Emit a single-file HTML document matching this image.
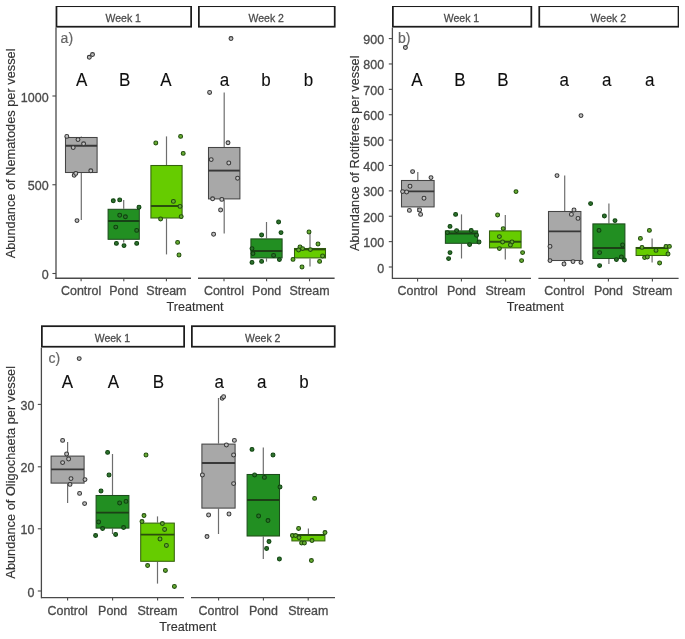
<!DOCTYPE html>
<html><head><meta charset="utf-8"><title>Boxplots</title>
<style>
html,body{margin:0;padding:0;background:#fff;}
body{width:685px;height:639px;overflow:hidden;}
svg{display:block;}
svg text{font-family:"Liberation Sans", sans-serif;}
.t{will-change:transform;}
</style></head>
<body>
<svg width="685" height="639" viewBox="0 0 685 639">
<rect x="0" y="0" width="685" height="639" fill="#fff"/>
<defs><filter id="soft" x="0" y="0" width="100%" height="100%"><feGaussianBlur stdDeviation="0.45"/></filter></defs>
<g filter="url(#soft)">
<rect x="56.48" y="6.17" width="134.65" height="20.55" fill="#fff" stroke="#1e1e1e" stroke-width="1.75"/>
<text x="0" y="0" font-size="10.5" fill="#4a4a4a" stroke="#4a4a4a" stroke-width="0.25" text-anchor="middle" transform="translate(123.20 21.70) scale(1 1.05)" >Week 1</text>
<rect x="198.88" y="6.17" width="135.85" height="20.55" fill="#fff" stroke="#1e1e1e" stroke-width="1.75"/>
<text x="0" y="0" font-size="10.5" fill="#4a4a4a" stroke="#4a4a4a" stroke-width="0.25" text-anchor="middle" transform="translate(266.20 21.70) scale(1 1.05)" >Week 2</text>
<line x1="56" y1="27.6" x2="56" y2="278.95" stroke="#4a4a4a" stroke-width="1.3"/>
<line x1="52.4" y1="96" x2="56" y2="96" stroke="#4a4a4a" stroke-width="1.1"/>
<text x="0" y="0" font-size="12.5" fill="#4a4a4a" stroke="#4a4a4a" stroke-width="0.3" text-anchor="end" transform="translate(48.60 101.50) scale(1 1.08)" >1000</text>
<line x1="52.4" y1="184.75" x2="56" y2="184.75" stroke="#4a4a4a" stroke-width="1.1"/>
<text x="0" y="0" font-size="12.5" fill="#4a4a4a" stroke="#4a4a4a" stroke-width="0.3" text-anchor="end" transform="translate(48.60 190.25) scale(1 1.08)" >500</text>
<line x1="52.4" y1="273.5" x2="56" y2="273.5" stroke="#4a4a4a" stroke-width="1.1"/>
<text x="0" y="0" font-size="12.5" fill="#4a4a4a" stroke="#4a4a4a" stroke-width="0.3" text-anchor="end" transform="translate(48.60 279.00) scale(1 1.08)" >0</text>
<line x1="55.4" y1="278.3" x2="191" y2="278.3" stroke="#4a4a4a" stroke-width="1.4"/>
<line x1="198" y1="278.3" x2="334.6" y2="278.3" stroke="#4a4a4a" stroke-width="1.4"/>
<line x1="81.1" y1="278.3" x2="81.1" y2="281.3" stroke="#4a4a4a" stroke-width="1.1"/>
<text x="0" y="0" font-size="12.45" fill="#4a4a4a" stroke="#4a4a4a" stroke-width="0.3" text-anchor="middle" transform="translate(81.10 295.20) scale(1 1.04)" >Control</text>
<line x1="123.8" y1="278.3" x2="123.8" y2="281.3" stroke="#4a4a4a" stroke-width="1.1"/>
<text x="0" y="0" font-size="12.45" fill="#4a4a4a" stroke="#4a4a4a" stroke-width="0.3" text-anchor="middle" transform="translate(123.80 295.20) scale(1 1.04)" >Pond</text>
<line x1="166.4" y1="278.3" x2="166.4" y2="281.3" stroke="#4a4a4a" stroke-width="1.1"/>
<text x="0" y="0" font-size="12.45" fill="#4a4a4a" stroke="#4a4a4a" stroke-width="0.3" text-anchor="middle" transform="translate(166.40 295.20) scale(1 1.04)" >Stream</text>
<line x1="224" y1="278.3" x2="224" y2="281.3" stroke="#4a4a4a" stroke-width="1.1"/>
<text x="0" y="0" font-size="12.45" fill="#4a4a4a" stroke="#4a4a4a" stroke-width="0.3" text-anchor="middle" transform="translate(224.00 295.20) scale(1 1.04)" >Control</text>
<line x1="266.6" y1="278.3" x2="266.6" y2="281.3" stroke="#4a4a4a" stroke-width="1.1"/>
<text x="0" y="0" font-size="12.45" fill="#4a4a4a" stroke="#4a4a4a" stroke-width="0.3" text-anchor="middle" transform="translate(266.60 295.20) scale(1 1.04)" >Pond</text>
<line x1="309.5" y1="278.3" x2="309.5" y2="281.3" stroke="#4a4a4a" stroke-width="1.1"/>
<text x="0" y="0" font-size="12.45" fill="#4a4a4a" stroke="#4a4a4a" stroke-width="0.3" text-anchor="middle" transform="translate(309.50 295.20) scale(1 1.04)" >Stream</text>
<text x="0" y="0" font-size="12.6" fill="#333333" stroke="#333333" stroke-width="0.15" text-anchor="middle" transform="translate(195.00 311.20) scale(1 1.04)" >Treatment</text>
<text x="0" y="0" font-size="12.8" fill="#333333" stroke="#333333" stroke-width="0.15" text-anchor="middle" transform="translate(15 153.4) rotate(-90)">Abundance of Nematodes per vessel</text>
<text x="0" y="0" font-size="14" fill="#666666" stroke="#666666" stroke-width="0.2" text-anchor="start" transform="translate(60.60 43.40) scale(1 1.0)" >a)</text>
<text x="0" y="0" font-size="17" fill="#111" stroke="#111" stroke-width="0.1" text-anchor="middle" transform="translate(81.60 86.40) scale(1 1.04)" >A</text>
<text x="0" y="0" font-size="17" fill="#111" stroke="#111" stroke-width="0.1" text-anchor="middle" transform="translate(124.70 86.40) scale(1 1.04)" >B</text>
<text x="0" y="0" font-size="17" fill="#111" stroke="#111" stroke-width="0.1" text-anchor="middle" transform="translate(166.00 86.40) scale(1 1.04)" >A</text>
<text x="0" y="0" font-size="17" fill="#111" stroke="#111" stroke-width="0.1" text-anchor="middle" transform="translate(224.50 86.40) scale(1 1.04)" >a</text>
<text x="0" y="0" font-size="17" fill="#111" stroke="#111" stroke-width="0.1" text-anchor="middle" transform="translate(266.00 86.40) scale(1 1.04)" >b</text>
<text x="0" y="0" font-size="17" fill="#111" stroke="#111" stroke-width="0.1" text-anchor="middle" transform="translate(308.40 86.40) scale(1 1.04)" >b</text>
<line x1="81.3" y1="136.4" x2="81.3" y2="137" stroke="#6e6e6e" stroke-width="1.2"/>
<line x1="81.3" y1="173" x2="81.3" y2="220" stroke="#6e6e6e" stroke-width="1.2"/>
<rect x="65.50" y="137.50" width="31.60" height="35.00" fill="#a8a8a8" stroke="#444444" stroke-width="1.05"/>
<line x1="65.50" y1="145.7" x2="97.10" y2="145.7" stroke="#383838" stroke-width="1.9"/>
<line x1="123.7" y1="200" x2="123.7" y2="208.8" stroke="#6e6e6e" stroke-width="1.2"/>
<line x1="123.7" y1="239.8" x2="123.7" y2="242.6" stroke="#6e6e6e" stroke-width="1.2"/>
<rect x="108.10" y="209.30" width="31.20" height="30.00" fill="#238f22" stroke="#1f4d1c" stroke-width="1.05"/>
<line x1="108.10" y1="221" x2="139.30" y2="221" stroke="#1a3f17" stroke-width="1.9"/>
<line x1="166.5" y1="136.4" x2="166.5" y2="165" stroke="#6e6e6e" stroke-width="1.2"/>
<line x1="166.5" y1="218.5" x2="166.5" y2="254.4" stroke="#6e6e6e" stroke-width="1.2"/>
<rect x="150.90" y="165.50" width="31.20" height="52.50" fill="#66cc00" stroke="#36620f" stroke-width="1.05"/>
<line x1="150.90" y1="206" x2="182.10" y2="206" stroke="#2a4f0c" stroke-width="1.9"/>
<line x1="224.2" y1="92.4" x2="224.2" y2="147" stroke="#6e6e6e" stroke-width="1.2"/>
<line x1="224.2" y1="199.4" x2="224.2" y2="233.4" stroke="#6e6e6e" stroke-width="1.2"/>
<rect x="208.50" y="147.50" width="31.40" height="51.40" fill="#a8a8a8" stroke="#444444" stroke-width="1.05"/>
<line x1="208.50" y1="170.6" x2="239.90" y2="170.6" stroke="#383838" stroke-width="1.9"/>
<line x1="266.5" y1="222" x2="266.5" y2="238.4" stroke="#6e6e6e" stroke-width="1.2"/>
<line x1="266.5" y1="258.4" x2="266.5" y2="261.6" stroke="#6e6e6e" stroke-width="1.2"/>
<rect x="250.90" y="238.90" width="31.20" height="19.00" fill="#238f22" stroke="#1f4d1c" stroke-width="1.05"/>
<line x1="250.90" y1="251" x2="282.10" y2="251" stroke="#1a3f17" stroke-width="1.9"/>
<line x1="310" y1="232" x2="310" y2="248" stroke="#6e6e6e" stroke-width="1.2"/>
<line x1="310" y1="258.4" x2="310" y2="266.4" stroke="#6e6e6e" stroke-width="1.2"/>
<rect x="294.50" y="248.50" width="31.00" height="9.40" fill="#66cc00" stroke="#36620f" stroke-width="1.05"/>
<line x1="294.50" y1="249.4" x2="325.50" y2="249.4" stroke="#2a4f0c" stroke-width="1.9"/>
<circle cx="89.3" cy="57.3" r="1.95" fill="#c0c0c0" stroke="#383838" stroke-width="1.05"/>
<circle cx="92.5" cy="54.6" r="1.95" fill="#c0c0c0" stroke="#383838" stroke-width="1.05"/>
<circle cx="66.8" cy="136.4" r="1.95" fill="#c0c0c0" stroke="#383838" stroke-width="1.05"/>
<circle cx="78" cy="139.6" r="1.95" fill="#c0c0c0" stroke="#383838" stroke-width="1.05"/>
<circle cx="83.6" cy="143.8" r="1.95" fill="#c0c0c0" stroke="#383838" stroke-width="1.05"/>
<circle cx="73.2" cy="147.6" r="1.95" fill="#c0c0c0" stroke="#383838" stroke-width="1.05"/>
<circle cx="90.8" cy="170.8" r="1.95" fill="#c0c0c0" stroke="#383838" stroke-width="1.05"/>
<circle cx="74.2" cy="175.2" r="1.95" fill="#c0c0c0" stroke="#383838" stroke-width="1.05"/>
<circle cx="75.8" cy="173.4" r="1.95" fill="#c0c0c0" stroke="#383838" stroke-width="1.05"/>
<circle cx="77" cy="220.6" r="1.95" fill="#c0c0c0" stroke="#383838" stroke-width="1.05"/>
<circle cx="113.3" cy="200.8" r="1.95" fill="#2f722f" stroke="#0e420e" stroke-width="1.05"/>
<circle cx="119.7" cy="199.9" r="1.95" fill="#2f722f" stroke="#0e420e" stroke-width="1.05"/>
<circle cx="139" cy="207.2" r="1.95" fill="#2f722f" stroke="#0e420e" stroke-width="1.05"/>
<circle cx="119.7" cy="215.2" r="1.95" fill="#2f722f" stroke="#0e420e" stroke-width="1.05"/>
<circle cx="125.4" cy="216.8" r="1.95" fill="#2f722f" stroke="#0e420e" stroke-width="1.05"/>
<circle cx="115.8" cy="227.1" r="1.95" fill="#2f722f" stroke="#0e420e" stroke-width="1.05"/>
<circle cx="136.7" cy="230.4" r="1.95" fill="#2f722f" stroke="#0e420e" stroke-width="1.05"/>
<circle cx="116.4" cy="243.4" r="1.95" fill="#2f722f" stroke="#0e420e" stroke-width="1.05"/>
<circle cx="124" cy="245.6" r="1.95" fill="#2f722f" stroke="#0e420e" stroke-width="1.05"/>
<circle cx="136.7" cy="243.4" r="1.95" fill="#2f722f" stroke="#0e420e" stroke-width="1.05"/>
<circle cx="155.8" cy="143" r="1.95" fill="#68ad30" stroke="#214d0e" stroke-width="1.05"/>
<circle cx="180.6" cy="136.4" r="1.95" fill="#68ad30" stroke="#214d0e" stroke-width="1.05"/>
<circle cx="183.2" cy="153.4" r="1.95" fill="#68ad30" stroke="#214d0e" stroke-width="1.05"/>
<circle cx="173.4" cy="201.4" r="1.95" fill="#68ad30" stroke="#214d0e" stroke-width="1.05"/>
<circle cx="180" cy="206.4" r="1.95" fill="#68ad30" stroke="#214d0e" stroke-width="1.05"/>
<circle cx="181.2" cy="216.6" r="1.95" fill="#68ad30" stroke="#214d0e" stroke-width="1.05"/>
<circle cx="160.6" cy="219" r="1.95" fill="#68ad30" stroke="#214d0e" stroke-width="1.05"/>
<circle cx="177.6" cy="242.4" r="1.95" fill="#68ad30" stroke="#214d0e" stroke-width="1.05"/>
<circle cx="179" cy="255" r="1.95" fill="#68ad30" stroke="#214d0e" stroke-width="1.05"/>
<circle cx="231" cy="38.6" r="1.95" fill="#c0c0c0" stroke="#383838" stroke-width="1.05"/>
<circle cx="209.6" cy="92.4" r="1.95" fill="#c0c0c0" stroke="#383838" stroke-width="1.05"/>
<circle cx="228" cy="142.8" r="1.95" fill="#c0c0c0" stroke="#383838" stroke-width="1.05"/>
<circle cx="211.2" cy="159.6" r="1.95" fill="#c0c0c0" stroke="#383838" stroke-width="1.05"/>
<circle cx="228.8" cy="163" r="1.95" fill="#c0c0c0" stroke="#383838" stroke-width="1.05"/>
<circle cx="237.6" cy="178.2" r="1.95" fill="#c0c0c0" stroke="#383838" stroke-width="1.05"/>
<circle cx="212.6" cy="198.8" r="1.95" fill="#c0c0c0" stroke="#383838" stroke-width="1.05"/>
<circle cx="221.8" cy="199.4" r="1.95" fill="#c0c0c0" stroke="#383838" stroke-width="1.05"/>
<circle cx="220.6" cy="210" r="1.95" fill="#c0c0c0" stroke="#383838" stroke-width="1.05"/>
<circle cx="213.6" cy="234.2" r="1.95" fill="#c0c0c0" stroke="#383838" stroke-width="1.05"/>
<circle cx="278.6" cy="222" r="1.95" fill="#2f722f" stroke="#0e420e" stroke-width="1.05"/>
<circle cx="281" cy="232.6" r="1.95" fill="#2f722f" stroke="#0e420e" stroke-width="1.05"/>
<circle cx="261.6" cy="235" r="1.95" fill="#2f722f" stroke="#0e420e" stroke-width="1.05"/>
<circle cx="252" cy="248.6" r="1.95" fill="#2f722f" stroke="#0e420e" stroke-width="1.05"/>
<circle cx="253" cy="253.6" r="1.95" fill="#2f722f" stroke="#0e420e" stroke-width="1.05"/>
<circle cx="273.6" cy="255.4" r="1.95" fill="#2f722f" stroke="#0e420e" stroke-width="1.05"/>
<circle cx="279.4" cy="259.6" r="1.95" fill="#2f722f" stroke="#0e420e" stroke-width="1.05"/>
<circle cx="252" cy="262.4" r="1.95" fill="#2f722f" stroke="#0e420e" stroke-width="1.05"/>
<circle cx="261.6" cy="261.4" r="1.95" fill="#2f722f" stroke="#0e420e" stroke-width="1.05"/>
<circle cx="309" cy="232" r="1.95" fill="#68ad30" stroke="#214d0e" stroke-width="1.05"/>
<circle cx="318" cy="244" r="1.95" fill="#68ad30" stroke="#214d0e" stroke-width="1.05"/>
<circle cx="300" cy="247" r="1.95" fill="#68ad30" stroke="#214d0e" stroke-width="1.05"/>
<circle cx="302.6" cy="248.6" r="1.95" fill="#68ad30" stroke="#214d0e" stroke-width="1.05"/>
<circle cx="298.6" cy="250" r="1.95" fill="#68ad30" stroke="#214d0e" stroke-width="1.05"/>
<circle cx="310.4" cy="249.6" r="1.95" fill="#68ad30" stroke="#214d0e" stroke-width="1.05"/>
<circle cx="322.6" cy="256" r="1.95" fill="#68ad30" stroke="#214d0e" stroke-width="1.05"/>
<circle cx="293" cy="259.4" r="1.95" fill="#68ad30" stroke="#214d0e" stroke-width="1.05"/>
<circle cx="319.6" cy="261.4" r="1.95" fill="#68ad30" stroke="#214d0e" stroke-width="1.05"/>
<circle cx="302" cy="267" r="1.95" fill="#68ad30" stroke="#214d0e" stroke-width="1.05"/>
<rect x="392.88" y="6.17" width="138.45" height="20.55" fill="#fff" stroke="#1e1e1e" stroke-width="1.75"/>
<text x="0" y="0" font-size="10.5" fill="#4a4a4a" stroke="#4a4a4a" stroke-width="0.25" text-anchor="middle" transform="translate(461.50 21.70) scale(1 1.05)" >Week 1</text>
<rect x="539.27" y="6.17" width="139.25" height="20.55" fill="#fff" stroke="#1e1e1e" stroke-width="1.75"/>
<text x="0" y="0" font-size="10.5" fill="#4a4a4a" stroke="#4a4a4a" stroke-width="0.25" text-anchor="middle" transform="translate(608.30 21.70) scale(1 1.05)" >Week 2</text>
<line x1="392.4" y1="27.6" x2="392.4" y2="279.04999999999995" stroke="#4a4a4a" stroke-width="1.3"/>
<line x1="388.79999999999995" y1="267.0" x2="392.4" y2="267.0" stroke="#4a4a4a" stroke-width="1.1"/>
<text x="0" y="0" font-size="12.5" fill="#4a4a4a" stroke="#4a4a4a" stroke-width="0.3" text-anchor="end" transform="translate(384.20 272.50) scale(1 1.08)" >0</text>
<line x1="388.79999999999995" y1="241.62" x2="392.4" y2="241.62" stroke="#4a4a4a" stroke-width="1.1"/>
<text x="0" y="0" font-size="12.5" fill="#4a4a4a" stroke="#4a4a4a" stroke-width="0.3" text-anchor="end" transform="translate(384.20 247.12) scale(1 1.08)" >100</text>
<line x1="388.79999999999995" y1="216.24" x2="392.4" y2="216.24" stroke="#4a4a4a" stroke-width="1.1"/>
<text x="0" y="0" font-size="12.5" fill="#4a4a4a" stroke="#4a4a4a" stroke-width="0.3" text-anchor="end" transform="translate(384.20 221.74) scale(1 1.08)" >200</text>
<line x1="388.79999999999995" y1="190.86" x2="392.4" y2="190.86" stroke="#4a4a4a" stroke-width="1.1"/>
<text x="0" y="0" font-size="12.5" fill="#4a4a4a" stroke="#4a4a4a" stroke-width="0.3" text-anchor="end" transform="translate(384.20 196.36) scale(1 1.08)" >300</text>
<line x1="388.79999999999995" y1="165.48" x2="392.4" y2="165.48" stroke="#4a4a4a" stroke-width="1.1"/>
<text x="0" y="0" font-size="12.5" fill="#4a4a4a" stroke="#4a4a4a" stroke-width="0.3" text-anchor="end" transform="translate(384.20 170.98) scale(1 1.08)" >400</text>
<line x1="388.79999999999995" y1="140.1" x2="392.4" y2="140.1" stroke="#4a4a4a" stroke-width="1.1"/>
<text x="0" y="0" font-size="12.5" fill="#4a4a4a" stroke="#4a4a4a" stroke-width="0.3" text-anchor="end" transform="translate(384.20 145.60) scale(1 1.08)" >500</text>
<line x1="388.79999999999995" y1="114.72" x2="392.4" y2="114.72" stroke="#4a4a4a" stroke-width="1.1"/>
<text x="0" y="0" font-size="12.5" fill="#4a4a4a" stroke="#4a4a4a" stroke-width="0.3" text-anchor="end" transform="translate(384.20 120.22) scale(1 1.08)" >600</text>
<line x1="388.79999999999995" y1="89.34" x2="392.4" y2="89.34" stroke="#4a4a4a" stroke-width="1.1"/>
<text x="0" y="0" font-size="12.5" fill="#4a4a4a" stroke="#4a4a4a" stroke-width="0.3" text-anchor="end" transform="translate(384.20 94.84) scale(1 1.08)" >700</text>
<line x1="388.79999999999995" y1="63.96" x2="392.4" y2="63.96" stroke="#4a4a4a" stroke-width="1.1"/>
<text x="0" y="0" font-size="12.5" fill="#4a4a4a" stroke="#4a4a4a" stroke-width="0.3" text-anchor="end" transform="translate(384.20 69.46) scale(1 1.08)" >800</text>
<line x1="388.79999999999995" y1="38.58" x2="392.4" y2="38.58" stroke="#4a4a4a" stroke-width="1.1"/>
<text x="0" y="0" font-size="12.5" fill="#4a4a4a" stroke="#4a4a4a" stroke-width="0.3" text-anchor="end" transform="translate(384.20 44.08) scale(1 1.08)" >900</text>
<line x1="392.2" y1="278.4" x2="531" y2="278.4" stroke="#4a4a4a" stroke-width="1.4"/>
<line x1="538.4" y1="278.4" x2="678.6" y2="278.4" stroke="#4a4a4a" stroke-width="1.4"/>
<line x1="417.6" y1="278.4" x2="417.6" y2="281.4" stroke="#4a4a4a" stroke-width="1.1"/>
<text x="0" y="0" font-size="12.45" fill="#4a4a4a" stroke="#4a4a4a" stroke-width="0.3" text-anchor="middle" transform="translate(417.60 295.20) scale(1 1.04)" >Control</text>
<line x1="461.4" y1="278.4" x2="461.4" y2="281.4" stroke="#4a4a4a" stroke-width="1.1"/>
<text x="0" y="0" font-size="12.45" fill="#4a4a4a" stroke="#4a4a4a" stroke-width="0.3" text-anchor="middle" transform="translate(461.40 295.20) scale(1 1.04)" >Pond</text>
<line x1="505.6" y1="278.4" x2="505.6" y2="281.4" stroke="#4a4a4a" stroke-width="1.1"/>
<text x="0" y="0" font-size="12.45" fill="#4a4a4a" stroke="#4a4a4a" stroke-width="0.3" text-anchor="middle" transform="translate(505.60 295.20) scale(1 1.04)" >Stream</text>
<line x1="564.4" y1="278.4" x2="564.4" y2="281.4" stroke="#4a4a4a" stroke-width="1.1"/>
<text x="0" y="0" font-size="12.45" fill="#4a4a4a" stroke="#4a4a4a" stroke-width="0.3" text-anchor="middle" transform="translate(564.40 295.20) scale(1 1.04)" >Control</text>
<line x1="608.4" y1="278.4" x2="608.4" y2="281.4" stroke="#4a4a4a" stroke-width="1.1"/>
<text x="0" y="0" font-size="12.45" fill="#4a4a4a" stroke="#4a4a4a" stroke-width="0.3" text-anchor="middle" transform="translate(608.40 295.20) scale(1 1.04)" >Pond</text>
<line x1="652.4" y1="278.4" x2="652.4" y2="281.4" stroke="#4a4a4a" stroke-width="1.1"/>
<text x="0" y="0" font-size="12.45" fill="#4a4a4a" stroke="#4a4a4a" stroke-width="0.3" text-anchor="middle" transform="translate(652.40 295.20) scale(1 1.04)" >Stream</text>
<text x="0" y="0" font-size="12.6" fill="#333333" stroke="#333333" stroke-width="0.15" text-anchor="middle" transform="translate(535.20 311.40) scale(1 1.04)" >Treatment</text>
<text x="0" y="0" font-size="12.8" fill="#333333" stroke="#333333" stroke-width="0.15" text-anchor="middle" transform="translate(358.6 153.3) rotate(-90)">Abundance of Rotiferes per vessel</text>
<text x="0" y="0" font-size="14" fill="#666666" stroke="#666666" stroke-width="0.2" text-anchor="start" transform="translate(398.00 43.40) scale(1 1.0)" >b)</text>
<text x="0" y="0" font-size="17" fill="#111" stroke="#111" stroke-width="0.1" text-anchor="middle" transform="translate(417.00 86.40) scale(1 1.04)" >A</text>
<text x="0" y="0" font-size="17" fill="#111" stroke="#111" stroke-width="0.1" text-anchor="middle" transform="translate(460.00 86.40) scale(1 1.04)" >B</text>
<text x="0" y="0" font-size="17" fill="#111" stroke="#111" stroke-width="0.1" text-anchor="middle" transform="translate(502.80 86.40) scale(1 1.04)" >B</text>
<text x="0" y="0" font-size="17" fill="#111" stroke="#111" stroke-width="0.1" text-anchor="middle" transform="translate(564.30 86.40) scale(1 1.04)" >a</text>
<text x="0" y="0" font-size="17" fill="#111" stroke="#111" stroke-width="0.1" text-anchor="middle" transform="translate(606.80 86.40) scale(1 1.04)" >a</text>
<text x="0" y="0" font-size="17" fill="#111" stroke="#111" stroke-width="0.1" text-anchor="middle" transform="translate(649.70 86.40) scale(1 1.04)" >a</text>
<line x1="417.8" y1="172" x2="417.8" y2="180" stroke="#6e6e6e" stroke-width="1.2"/>
<line x1="417.8" y1="207.4" x2="417.8" y2="212" stroke="#6e6e6e" stroke-width="1.2"/>
<rect x="401.50" y="180.50" width="32.60" height="26.40" fill="#a8a8a8" stroke="#444444" stroke-width="1.05"/>
<line x1="401.50" y1="191.4" x2="434.10" y2="191.4" stroke="#383838" stroke-width="1.9"/>
<line x1="461.5" y1="214.4" x2="461.5" y2="230.4" stroke="#6e6e6e" stroke-width="1.2"/>
<line x1="461.5" y1="243.8" x2="461.5" y2="258.5" stroke="#6e6e6e" stroke-width="1.2"/>
<rect x="445.40" y="230.90" width="32.20" height="12.40" fill="#238f22" stroke="#1f4d1c" stroke-width="1.05"/>
<line x1="445.40" y1="233.5" x2="477.60" y2="233.5" stroke="#1a3f17" stroke-width="1.9"/>
<line x1="505.3" y1="215" x2="505.3" y2="230.4" stroke="#6e6e6e" stroke-width="1.2"/>
<line x1="505.3" y1="248.4" x2="505.3" y2="259.6" stroke="#6e6e6e" stroke-width="1.2"/>
<rect x="489.50" y="230.90" width="31.60" height="17.00" fill="#66cc00" stroke="#36620f" stroke-width="1.05"/>
<line x1="489.50" y1="241.8" x2="521.10" y2="241.8" stroke="#2a4f0c" stroke-width="1.9"/>
<line x1="564.7" y1="175.6" x2="564.7" y2="211" stroke="#6e6e6e" stroke-width="1.2"/>
<line x1="564.7" y1="261" x2="564.7" y2="262" stroke="#6e6e6e" stroke-width="1.2"/>
<rect x="548.50" y="211.50" width="32.40" height="49.00" fill="#a8a8a8" stroke="#444444" stroke-width="1.05"/>
<line x1="548.50" y1="231.4" x2="580.90" y2="231.4" stroke="#383838" stroke-width="1.9"/>
<line x1="608.9" y1="203.6" x2="608.9" y2="223.4" stroke="#6e6e6e" stroke-width="1.2"/>
<line x1="608.9" y1="259" x2="608.9" y2="264" stroke="#6e6e6e" stroke-width="1.2"/>
<rect x="592.90" y="223.90" width="32.00" height="34.60" fill="#238f22" stroke="#1f4d1c" stroke-width="1.05"/>
<line x1="592.90" y1="248" x2="624.90" y2="248" stroke="#1a3f17" stroke-width="1.9"/>
<line x1="652.1" y1="238.4" x2="652.1" y2="247" stroke="#6e6e6e" stroke-width="1.2"/>
<line x1="652.1" y1="256" x2="652.1" y2="262.4" stroke="#6e6e6e" stroke-width="1.2"/>
<rect x="636.10" y="247.50" width="32.00" height="8.00" fill="#66cc00" stroke="#36620f" stroke-width="1.05"/>
<line x1="636.10" y1="248" x2="668.10" y2="248" stroke="#2a4f0c" stroke-width="1.9"/>
<circle cx="405.4" cy="47.6" r="1.95" fill="#c0c0c0" stroke="#383838" stroke-width="1.05"/>
<circle cx="412.6" cy="171.6" r="1.95" fill="#c0c0c0" stroke="#383838" stroke-width="1.05"/>
<circle cx="431" cy="177.6" r="1.95" fill="#c0c0c0" stroke="#383838" stroke-width="1.05"/>
<circle cx="410" cy="186.2" r="1.95" fill="#c0c0c0" stroke="#383838" stroke-width="1.05"/>
<circle cx="402.6" cy="191.6" r="1.95" fill="#c0c0c0" stroke="#383838" stroke-width="1.05"/>
<circle cx="406.6" cy="192" r="1.95" fill="#c0c0c0" stroke="#383838" stroke-width="1.05"/>
<circle cx="424" cy="198.2" r="1.95" fill="#c0c0c0" stroke="#383838" stroke-width="1.05"/>
<circle cx="409.4" cy="210.4" r="1.95" fill="#c0c0c0" stroke="#383838" stroke-width="1.05"/>
<circle cx="419.6" cy="210" r="1.95" fill="#c0c0c0" stroke="#383838" stroke-width="1.05"/>
<circle cx="420.6" cy="214.4" r="1.95" fill="#c0c0c0" stroke="#383838" stroke-width="1.05"/>
<circle cx="455.6" cy="214.4" r="1.95" fill="#2f722f" stroke="#0e420e" stroke-width="1.05"/>
<circle cx="450" cy="226.4" r="1.95" fill="#2f722f" stroke="#0e420e" stroke-width="1.05"/>
<circle cx="456.6" cy="230.6" r="1.95" fill="#2f722f" stroke="#0e420e" stroke-width="1.05"/>
<circle cx="471.2" cy="230.5" r="1.95" fill="#2f722f" stroke="#0e420e" stroke-width="1.05"/>
<circle cx="447.4" cy="232.6" r="1.95" fill="#2f722f" stroke="#0e420e" stroke-width="1.05"/>
<circle cx="476.5" cy="235.2" r="1.95" fill="#2f722f" stroke="#0e420e" stroke-width="1.05"/>
<circle cx="479" cy="242" r="1.95" fill="#2f722f" stroke="#0e420e" stroke-width="1.05"/>
<circle cx="469.6" cy="244.6" r="1.95" fill="#2f722f" stroke="#0e420e" stroke-width="1.05"/>
<circle cx="450" cy="252.6" r="1.95" fill="#2f722f" stroke="#0e420e" stroke-width="1.05"/>
<circle cx="448.6" cy="258.6" r="1.95" fill="#2f722f" stroke="#0e420e" stroke-width="1.05"/>
<circle cx="516" cy="191.6" r="1.95" fill="#68ad30" stroke="#214d0e" stroke-width="1.05"/>
<circle cx="497.6" cy="215" r="1.95" fill="#68ad30" stroke="#214d0e" stroke-width="1.05"/>
<circle cx="503.2" cy="228.6" r="1.95" fill="#68ad30" stroke="#214d0e" stroke-width="1.05"/>
<circle cx="499.4" cy="236.6" r="1.95" fill="#68ad30" stroke="#214d0e" stroke-width="1.05"/>
<circle cx="502.6" cy="242" r="1.95" fill="#68ad30" stroke="#214d0e" stroke-width="1.05"/>
<circle cx="512" cy="242" r="1.95" fill="#68ad30" stroke="#214d0e" stroke-width="1.05"/>
<circle cx="510.4" cy="245" r="1.95" fill="#68ad30" stroke="#214d0e" stroke-width="1.05"/>
<circle cx="499.4" cy="248.6" r="1.95" fill="#68ad30" stroke="#214d0e" stroke-width="1.05"/>
<circle cx="522.6" cy="252.6" r="1.95" fill="#68ad30" stroke="#214d0e" stroke-width="1.05"/>
<circle cx="521.6" cy="260.6" r="1.95" fill="#68ad30" stroke="#214d0e" stroke-width="1.05"/>
<circle cx="581" cy="115.6" r="1.95" fill="#c0c0c0" stroke="#383838" stroke-width="1.05"/>
<circle cx="557" cy="175.6" r="1.95" fill="#c0c0c0" stroke="#383838" stroke-width="1.05"/>
<circle cx="574" cy="210" r="1.95" fill="#c0c0c0" stroke="#383838" stroke-width="1.05"/>
<circle cx="571.4" cy="214.4" r="1.95" fill="#c0c0c0" stroke="#383838" stroke-width="1.05"/>
<circle cx="578" cy="218.4" r="1.95" fill="#c0c0c0" stroke="#383838" stroke-width="1.05"/>
<circle cx="550" cy="246.4" r="1.95" fill="#c0c0c0" stroke="#383838" stroke-width="1.05"/>
<circle cx="550" cy="260.6" r="1.95" fill="#c0c0c0" stroke="#383838" stroke-width="1.05"/>
<circle cx="564" cy="264" r="1.95" fill="#c0c0c0" stroke="#383838" stroke-width="1.05"/>
<circle cx="573" cy="261.6" r="1.95" fill="#c0c0c0" stroke="#383838" stroke-width="1.05"/>
<circle cx="581" cy="262.4" r="1.95" fill="#c0c0c0" stroke="#383838" stroke-width="1.05"/>
<circle cx="590.6" cy="203.6" r="1.95" fill="#2f722f" stroke="#0e420e" stroke-width="1.05"/>
<circle cx="604.4" cy="216" r="1.95" fill="#2f722f" stroke="#0e420e" stroke-width="1.05"/>
<circle cx="615" cy="220.6" r="1.95" fill="#2f722f" stroke="#0e420e" stroke-width="1.05"/>
<circle cx="599" cy="230.4" r="1.95" fill="#2f722f" stroke="#0e420e" stroke-width="1.05"/>
<circle cx="622.6" cy="245" r="1.95" fill="#2f722f" stroke="#0e420e" stroke-width="1.05"/>
<circle cx="599.6" cy="252.6" r="1.95" fill="#2f722f" stroke="#0e420e" stroke-width="1.05"/>
<circle cx="621.4" cy="257" r="1.95" fill="#2f722f" stroke="#0e420e" stroke-width="1.05"/>
<circle cx="616.4" cy="259.6" r="1.95" fill="#2f722f" stroke="#0e420e" stroke-width="1.05"/>
<circle cx="624.4" cy="260" r="1.95" fill="#2f722f" stroke="#0e420e" stroke-width="1.05"/>
<circle cx="599.6" cy="265.6" r="1.95" fill="#2f722f" stroke="#0e420e" stroke-width="1.05"/>
<circle cx="649.4" cy="230.4" r="1.95" fill="#68ad30" stroke="#214d0e" stroke-width="1.05"/>
<circle cx="640.4" cy="238.4" r="1.95" fill="#68ad30" stroke="#214d0e" stroke-width="1.05"/>
<circle cx="642" cy="247.4" r="1.95" fill="#68ad30" stroke="#214d0e" stroke-width="1.05"/>
<circle cx="656" cy="250.4" r="1.95" fill="#68ad30" stroke="#214d0e" stroke-width="1.05"/>
<circle cx="666" cy="246.4" r="1.95" fill="#68ad30" stroke="#214d0e" stroke-width="1.05"/>
<circle cx="669.4" cy="246.4" r="1.95" fill="#68ad30" stroke="#214d0e" stroke-width="1.05"/>
<circle cx="668" cy="254" r="1.95" fill="#68ad30" stroke="#214d0e" stroke-width="1.05"/>
<circle cx="644.6" cy="257.6" r="1.95" fill="#68ad30" stroke="#214d0e" stroke-width="1.05"/>
<circle cx="647.4" cy="257" r="1.95" fill="#68ad30" stroke="#214d0e" stroke-width="1.05"/>
<circle cx="659.6" cy="263" r="1.95" fill="#68ad30" stroke="#214d0e" stroke-width="1.05"/>
<rect x="41.88" y="326.18" width="142.25" height="20.55" fill="#fff" stroke="#1e1e1e" stroke-width="1.75"/>
<text x="0" y="0" font-size="10.5" fill="#4a4a4a" stroke="#4a4a4a" stroke-width="0.25" text-anchor="middle" transform="translate(112.40 341.90) scale(1 1.05)" >Week 1</text>
<rect x="191.88" y="326.18" width="142.85" height="20.55" fill="#fff" stroke="#1e1e1e" stroke-width="1.75"/>
<text x="0" y="0" font-size="10.5" fill="#4a4a4a" stroke="#4a4a4a" stroke-width="0.25" text-anchor="middle" transform="translate(262.70 341.90) scale(1 1.05)" >Week 2</text>
<line x1="41.4" y1="347.6" x2="41.4" y2="598.25" stroke="#4a4a4a" stroke-width="1.3"/>
<line x1="37.8" y1="404.4" x2="41.4" y2="404.4" stroke="#4a4a4a" stroke-width="1.1"/>
<text x="0" y="0" font-size="12.5" fill="#4a4a4a" stroke="#4a4a4a" stroke-width="0.3" text-anchor="end" transform="translate(34.40 409.90) scale(1 1.08)" >30</text>
<line x1="37.8" y1="466.8" x2="41.4" y2="466.8" stroke="#4a4a4a" stroke-width="1.1"/>
<text x="0" y="0" font-size="12.5" fill="#4a4a4a" stroke="#4a4a4a" stroke-width="0.3" text-anchor="end" transform="translate(34.40 472.30) scale(1 1.08)" >20</text>
<line x1="37.8" y1="528.8" x2="41.4" y2="528.8" stroke="#4a4a4a" stroke-width="1.1"/>
<text x="0" y="0" font-size="12.5" fill="#4a4a4a" stroke="#4a4a4a" stroke-width="0.3" text-anchor="end" transform="translate(34.40 534.30) scale(1 1.08)" >10</text>
<line x1="37.8" y1="591" x2="41.4" y2="591" stroke="#4a4a4a" stroke-width="1.1"/>
<text x="0" y="0" font-size="12.5" fill="#4a4a4a" stroke="#4a4a4a" stroke-width="0.3" text-anchor="end" transform="translate(34.40 596.50) scale(1 1.08)" >0</text>
<line x1="41.2" y1="597.6" x2="184" y2="597.6" stroke="#4a4a4a" stroke-width="1.4"/>
<line x1="191" y1="597.6" x2="335" y2="597.6" stroke="#4a4a4a" stroke-width="1.4"/>
<line x1="67.6" y1="597.6" x2="67.6" y2="600.6" stroke="#4a4a4a" stroke-width="1.1"/>
<text x="0" y="0" font-size="12.45" fill="#4a4a4a" stroke="#4a4a4a" stroke-width="0.3" text-anchor="middle" transform="translate(67.60 614.60) scale(1 1.04)" >Control</text>
<line x1="112.6" y1="597.6" x2="112.6" y2="600.6" stroke="#4a4a4a" stroke-width="1.1"/>
<text x="0" y="0" font-size="12.45" fill="#4a4a4a" stroke="#4a4a4a" stroke-width="0.3" text-anchor="middle" transform="translate(112.60 614.60) scale(1 1.04)" >Pond</text>
<line x1="157.6" y1="597.6" x2="157.6" y2="600.6" stroke="#4a4a4a" stroke-width="1.1"/>
<text x="0" y="0" font-size="12.45" fill="#4a4a4a" stroke="#4a4a4a" stroke-width="0.3" text-anchor="middle" transform="translate(157.60 614.60) scale(1 1.04)" >Stream</text>
<line x1="218.6" y1="597.6" x2="218.6" y2="600.6" stroke="#4a4a4a" stroke-width="1.1"/>
<text x="0" y="0" font-size="12.45" fill="#4a4a4a" stroke="#4a4a4a" stroke-width="0.3" text-anchor="middle" transform="translate(218.60 614.60) scale(1 1.04)" >Control</text>
<line x1="263.4" y1="597.6" x2="263.4" y2="600.6" stroke="#4a4a4a" stroke-width="1.1"/>
<text x="0" y="0" font-size="12.45" fill="#4a4a4a" stroke="#4a4a4a" stroke-width="0.3" text-anchor="middle" transform="translate(263.40 614.60) scale(1 1.04)" >Pond</text>
<line x1="308.2" y1="597.6" x2="308.2" y2="600.6" stroke="#4a4a4a" stroke-width="1.1"/>
<text x="0" y="0" font-size="12.45" fill="#4a4a4a" stroke="#4a4a4a" stroke-width="0.3" text-anchor="middle" transform="translate(308.20 614.60) scale(1 1.04)" >Stream</text>
<text x="0" y="0" font-size="12.6" fill="#333333" stroke="#333333" stroke-width="0.15" text-anchor="middle" transform="translate(187.70 631.20) scale(1 1.04)" >Treatment</text>
<text x="0" y="0" font-size="12.8" fill="#333333" stroke="#333333" stroke-width="0.15" text-anchor="middle" transform="translate(15 472.3) rotate(-90)">Abundance of Oligochaeta per vessel</text>
<text x="0" y="0" font-size="14" fill="#666666" stroke="#666666" stroke-width="0.2" text-anchor="start" transform="translate(48.60 363.00) scale(1 1.0)" >c)</text>
<text x="0" y="0" font-size="17" fill="#111" stroke="#111" stroke-width="0.1" text-anchor="middle" transform="translate(67.50 388.00) scale(1 1.04)" >A</text>
<text x="0" y="0" font-size="17" fill="#111" stroke="#111" stroke-width="0.1" text-anchor="middle" transform="translate(113.30 388.00) scale(1 1.04)" >A</text>
<text x="0" y="0" font-size="17" fill="#111" stroke="#111" stroke-width="0.1" text-anchor="middle" transform="translate(158.40 388.00) scale(1 1.04)" >B</text>
<text x="0" y="0" font-size="17" fill="#111" stroke="#111" stroke-width="0.1" text-anchor="middle" transform="translate(219.20 388.00) scale(1 1.04)" >a</text>
<text x="0" y="0" font-size="17" fill="#111" stroke="#111" stroke-width="0.1" text-anchor="middle" transform="translate(261.80 388.00) scale(1 1.04)" >a</text>
<text x="0" y="0" font-size="17" fill="#111" stroke="#111" stroke-width="0.1" text-anchor="middle" transform="translate(304.00 388.00) scale(1 1.04)" >b</text>
<line x1="67.6" y1="442" x2="67.6" y2="455.6" stroke="#6e6e6e" stroke-width="1.2"/>
<line x1="67.6" y1="483.6" x2="67.6" y2="503" stroke="#6e6e6e" stroke-width="1.2"/>
<rect x="51.10" y="456.10" width="33.00" height="27.00" fill="#a8a8a8" stroke="#444444" stroke-width="1.05"/>
<line x1="51.10" y1="469.4" x2="84.10" y2="469.4" stroke="#383838" stroke-width="1.9"/>
<line x1="112.5" y1="454" x2="112.5" y2="495" stroke="#6e6e6e" stroke-width="1.2"/>
<line x1="112.5" y1="528.6" x2="112.5" y2="534" stroke="#6e6e6e" stroke-width="1.2"/>
<rect x="96.10" y="495.50" width="32.80" height="32.60" fill="#238f22" stroke="#1f4d1c" stroke-width="1.05"/>
<line x1="96.10" y1="512.6" x2="128.90" y2="512.6" stroke="#1a3f17" stroke-width="1.9"/>
<line x1="157.5" y1="516.4" x2="157.5" y2="522.6" stroke="#6e6e6e" stroke-width="1.2"/>
<line x1="157.5" y1="561.8" x2="157.5" y2="583.6" stroke="#6e6e6e" stroke-width="1.2"/>
<rect x="140.70" y="523.10" width="33.60" height="38.20" fill="#66cc00" stroke="#36620f" stroke-width="1.05"/>
<line x1="140.70" y1="534.6" x2="174.30" y2="534.6" stroke="#2a4f0c" stroke-width="1.9"/>
<line x1="218.5" y1="398" x2="218.5" y2="443.6" stroke="#6e6e6e" stroke-width="1.2"/>
<line x1="218.5" y1="508.6" x2="218.5" y2="534" stroke="#6e6e6e" stroke-width="1.2"/>
<rect x="201.90" y="444.10" width="33.20" height="64.00" fill="#a8a8a8" stroke="#444444" stroke-width="1.05"/>
<line x1="201.90" y1="463" x2="235.10" y2="463" stroke="#383838" stroke-width="1.9"/>
<line x1="263.3" y1="447.6" x2="263.3" y2="474" stroke="#6e6e6e" stroke-width="1.2"/>
<line x1="263.3" y1="536.5" x2="263.3" y2="559" stroke="#6e6e6e" stroke-width="1.2"/>
<rect x="247.10" y="474.50" width="32.40" height="61.50" fill="#238f22" stroke="#1f4d1c" stroke-width="1.05"/>
<line x1="247.10" y1="500" x2="279.50" y2="500" stroke="#1a3f17" stroke-width="1.9"/>
<line x1="308.4" y1="528.4" x2="308.4" y2="534.5" stroke="#6e6e6e" stroke-width="1.2"/>
<line x1="308.4" y1="541.4" x2="308.4" y2="541.4" stroke="#6e6e6e" stroke-width="1.2"/>
<rect x="291.90" y="535.00" width="33.00" height="5.90" fill="#66cc00" stroke="#36620f" stroke-width="1.05"/>
<line x1="291.90" y1="535" x2="324.90" y2="535" stroke="#2a4f0c" stroke-width="1.9"/>
<circle cx="79.2" cy="358.6" r="1.95" fill="#c0c0c0" stroke="#383838" stroke-width="1.05"/>
<circle cx="62.6" cy="440.4" r="1.95" fill="#c0c0c0" stroke="#383838" stroke-width="1.05"/>
<circle cx="66.6" cy="454" r="1.95" fill="#c0c0c0" stroke="#383838" stroke-width="1.05"/>
<circle cx="68.6" cy="459" r="1.95" fill="#c0c0c0" stroke="#383838" stroke-width="1.05"/>
<circle cx="62.6" cy="462.6" r="1.95" fill="#c0c0c0" stroke="#383838" stroke-width="1.05"/>
<circle cx="71" cy="478.6" r="1.95" fill="#c0c0c0" stroke="#383838" stroke-width="1.05"/>
<circle cx="85" cy="479.6" r="1.95" fill="#c0c0c0" stroke="#383838" stroke-width="1.05"/>
<circle cx="70" cy="484.4" r="1.95" fill="#c0c0c0" stroke="#383838" stroke-width="1.05"/>
<circle cx="79.6" cy="493.4" r="1.95" fill="#c0c0c0" stroke="#383838" stroke-width="1.05"/>
<circle cx="84.6" cy="503.6" r="1.95" fill="#c0c0c0" stroke="#383838" stroke-width="1.05"/>
<circle cx="107.6" cy="452.4" r="1.95" fill="#2f722f" stroke="#0e420e" stroke-width="1.05"/>
<circle cx="109" cy="475" r="1.95" fill="#2f722f" stroke="#0e420e" stroke-width="1.05"/>
<circle cx="101" cy="491" r="1.95" fill="#2f722f" stroke="#0e420e" stroke-width="1.05"/>
<circle cx="119.6" cy="503" r="1.95" fill="#2f722f" stroke="#0e420e" stroke-width="1.05"/>
<circle cx="126" cy="501.4" r="1.95" fill="#2f722f" stroke="#0e420e" stroke-width="1.05"/>
<circle cx="98.6" cy="522" r="1.95" fill="#2f722f" stroke="#0e420e" stroke-width="1.05"/>
<circle cx="102.6" cy="528.6" r="1.95" fill="#2f722f" stroke="#0e420e" stroke-width="1.05"/>
<circle cx="123.6" cy="527.6" r="1.95" fill="#2f722f" stroke="#0e420e" stroke-width="1.05"/>
<circle cx="95.6" cy="535.6" r="1.95" fill="#2f722f" stroke="#0e420e" stroke-width="1.05"/>
<circle cx="115.6" cy="534.4" r="1.95" fill="#2f722f" stroke="#0e420e" stroke-width="1.05"/>
<circle cx="146" cy="455" r="1.95" fill="#68ad30" stroke="#214d0e" stroke-width="1.05"/>
<circle cx="144" cy="515.6" r="1.95" fill="#68ad30" stroke="#214d0e" stroke-width="1.05"/>
<circle cx="142" cy="521.6" r="1.95" fill="#68ad30" stroke="#214d0e" stroke-width="1.05"/>
<circle cx="162.4" cy="523.6" r="1.95" fill="#68ad30" stroke="#214d0e" stroke-width="1.05"/>
<circle cx="164.6" cy="529.4" r="1.95" fill="#68ad30" stroke="#214d0e" stroke-width="1.05"/>
<circle cx="160" cy="539" r="1.95" fill="#68ad30" stroke="#214d0e" stroke-width="1.05"/>
<circle cx="166.4" cy="545.4" r="1.95" fill="#68ad30" stroke="#214d0e" stroke-width="1.05"/>
<circle cx="147.6" cy="565.6" r="1.95" fill="#68ad30" stroke="#214d0e" stroke-width="1.05"/>
<circle cx="165.4" cy="570.4" r="1.95" fill="#68ad30" stroke="#214d0e" stroke-width="1.05"/>
<circle cx="174.4" cy="586.4" r="1.95" fill="#68ad30" stroke="#214d0e" stroke-width="1.05"/>
<circle cx="222.2" cy="398.2" r="1.95" fill="#c0c0c0" stroke="#383838" stroke-width="1.05"/>
<circle cx="223.6" cy="396.8" r="1.95" fill="#c0c0c0" stroke="#383838" stroke-width="1.05"/>
<circle cx="234.4" cy="440.4" r="1.95" fill="#c0c0c0" stroke="#383838" stroke-width="1.05"/>
<circle cx="226.4" cy="445" r="1.95" fill="#c0c0c0" stroke="#383838" stroke-width="1.05"/>
<circle cx="233.6" cy="455" r="1.95" fill="#c0c0c0" stroke="#383838" stroke-width="1.05"/>
<circle cx="202.4" cy="475" r="1.95" fill="#c0c0c0" stroke="#383838" stroke-width="1.05"/>
<circle cx="233.6" cy="483.6" r="1.95" fill="#c0c0c0" stroke="#383838" stroke-width="1.05"/>
<circle cx="208.6" cy="515" r="1.95" fill="#c0c0c0" stroke="#383838" stroke-width="1.05"/>
<circle cx="229" cy="514" r="1.95" fill="#c0c0c0" stroke="#383838" stroke-width="1.05"/>
<circle cx="207" cy="536.6" r="1.95" fill="#c0c0c0" stroke="#383838" stroke-width="1.05"/>
<circle cx="252" cy="449.4" r="1.95" fill="#2f722f" stroke="#0e420e" stroke-width="1.05"/>
<circle cx="273" cy="455" r="1.95" fill="#2f722f" stroke="#0e420e" stroke-width="1.05"/>
<circle cx="254.6" cy="475" r="1.95" fill="#2f722f" stroke="#0e420e" stroke-width="1.05"/>
<circle cx="264.4" cy="477.4" r="1.95" fill="#2f722f" stroke="#0e420e" stroke-width="1.05"/>
<circle cx="280" cy="487" r="1.95" fill="#2f722f" stroke="#0e420e" stroke-width="1.05"/>
<circle cx="258.6" cy="516" r="1.95" fill="#2f722f" stroke="#0e420e" stroke-width="1.05"/>
<circle cx="268" cy="520.6" r="1.95" fill="#2f722f" stroke="#0e420e" stroke-width="1.05"/>
<circle cx="269" cy="541.6" r="1.95" fill="#2f722f" stroke="#0e420e" stroke-width="1.05"/>
<circle cx="266.6" cy="548.6" r="1.95" fill="#2f722f" stroke="#0e420e" stroke-width="1.05"/>
<circle cx="279.4" cy="559" r="1.95" fill="#2f722f" stroke="#0e420e" stroke-width="1.05"/>
<circle cx="314.6" cy="498.4" r="1.95" fill="#68ad30" stroke="#214d0e" stroke-width="1.05"/>
<circle cx="298.6" cy="528.4" r="1.95" fill="#68ad30" stroke="#214d0e" stroke-width="1.05"/>
<circle cx="325" cy="532.6" r="1.95" fill="#68ad30" stroke="#214d0e" stroke-width="1.05"/>
<circle cx="292.4" cy="535.6" r="1.95" fill="#68ad30" stroke="#214d0e" stroke-width="1.05"/>
<circle cx="295.6" cy="535.6" r="1.95" fill="#68ad30" stroke="#214d0e" stroke-width="1.05"/>
<circle cx="299" cy="537.6" r="1.95" fill="#68ad30" stroke="#214d0e" stroke-width="1.05"/>
<circle cx="312" cy="540.6" r="1.95" fill="#68ad30" stroke="#214d0e" stroke-width="1.05"/>
<circle cx="301.6" cy="543" r="1.95" fill="#68ad30" stroke="#214d0e" stroke-width="1.05"/>
<circle cx="304.4" cy="543" r="1.95" fill="#68ad30" stroke="#214d0e" stroke-width="1.05"/>
<circle cx="311.4" cy="560.6" r="1.95" fill="#68ad30" stroke="#214d0e" stroke-width="1.05"/>
</g>
</svg>
</body></html>
